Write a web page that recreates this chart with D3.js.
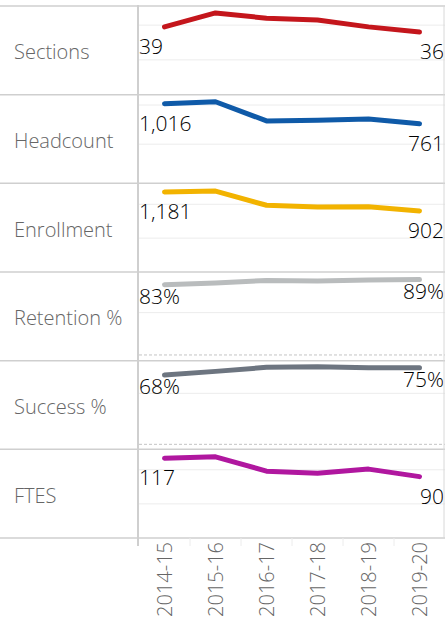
<!DOCTYPE html>
<html>
<head>
<meta charset="utf-8">
<script src="https://cdn.jsdelivr.net/npm/d3@7"></script>
<style>
  body { margin: 0; background: #fff; }
  svg text { font-family: 'Open Sans', sans-serif; font-weight: 300; }
</style>
</head>
<body>
<div class="canvas"></div>
<script>
// Data
const years = ['2014-15', '2015-16', '2016-17', '2017-18', '2018-19', '2019-20']
const measures = ['Sections', 'Headcount', 'Enrollment', 'Retention %', 'Success %', 'FTES']
const sections = [39, 47, 44, 43, 39, 36]
const headcount = [1016, 1042, 797, 805, 820, 761]
const enrollment = [1181, 1195, 985, 960, 962, 902]
const retention = [83, 85, 88, 87.5, 88.5, 89]
const success = [68, 71.5, 75.5, 76, 75, 75]
const ftes = [117, 119, 98, 95, 101, 90]

const dims = { width: 445, height: 626, top: 6, bottom: 538, left: 139, right: 445 }
const rowHeight = (dims.bottom - dims.top) / measures.length

// per-row axis setup (independent axes, like the source)
const rows = [
  { values: sections, color: '#c4161c', max: 51, pad: 0, grid: [20, 40], fmt: d3.format(','), dy: 27 },
  { values: headcount, color: '#0f5aa8', max: 1132, pad: 0, grid: [500, 1000], fmt: d3.format(','), dy: 27 },
  { values: enrollment, color: '#f2b300', max: 1309, pad: 0, grid: [500, 1000], fmt: d3.format(','), dy: 27 },
  { values: retention, color: '#b9bcbd', max: 98, pad: 5.7, grid: [50], fmt: d => Math.round(d) + '%', dy: 19, zero: true },
  { values: success, color: '#6d7580', max: 82, pad: 5, grid: [50], fmt: d => Math.round(d) + '%', dy: 19, zero: true },
  { values: ftes, color: '#b0179f', max: 130, pad: 0, grid: [50, 100], fmt: d3.format(','), dy: 27 }
]

const svg = d3.select('.canvas')
  .append('svg')
    .attr('width', dims.width)
    .attr('height', dims.height)

const x = d3.scaleBand()
  .domain(years)
  .range([dims.left, dims.right])

const cx = d => x(d) + x.bandwidth() / 2

const line = d3.line()

rows.forEach((row, i) => {
  const rowTop = dims.top + i * rowHeight
  const rowBottom = rowTop + rowHeight

  const y = d3.scaleLinear()
    .domain([0, row.max])
    .range([rowBottom - row.pad, rowTop])

  const g = svg.append('g')

  // gridlines
  g.selectAll('line.grid')
    .data(row.grid)
    .enter()
    .append('line')
      .attr('x1', dims.left)
      .attr('x2', dims.right)
      .attr('y1', d => y(d))
      .attr('y2', d => y(d))
      .attr('stroke', '#ececec')
      .attr('stroke-width', 1)

  // dashed zero line
  if (row.zero) {
    g.append('line')
      .attr('x1', dims.left)
      .attr('x2', dims.right)
      .attr('y1', y(0))
      .attr('y2', y(0))
      .attr('stroke', '#c4c4c4')
      .attr('stroke-dasharray', '3,2')
  }

  // row label
  g.append('text')
    .attr('x', 14)
    .attr('y', (rowTop + rowBottom) / 2)
    .attr('dy', '0.45em')
    .attr('fill', '#666')
    .attr('font-size', '20px')
    .text(measures[i])

  // the line
  const pts = years.map((yr, j) => [cx(yr), y(row.values[j])])
  g.append('path')
    .attr('d', line(pts))
    .attr('fill', 'none')
    .attr('stroke', row.color)
    .attr('stroke-width', 5)
    .attr('stroke-linecap', 'round')
    .attr('stroke-linejoin', 'round')

  // first and last value labels
  const n = row.values.length - 1
  g.append('text')
    .attr('x', dims.left)
    .attr('y', y(row.values[0]) + row.dy)
    .attr('fill', '#000')
    .attr('font-size', '21px')
    .text(row.fmt(row.values[0]))

  g.append('text')
    .attr('x', dims.right - 1)
    .attr('y', y(row.values[n]) + row.dy)
    .attr('text-anchor', 'end')
    .attr('fill', '#000')
    .attr('font-size', '21px')
    .text(row.fmt(row.values[n]))
})

// row separators
const seps = d3.range(measures.length + 1).map(i => dims.top + i * rowHeight)
svg.selectAll('line.sep')
  .data(seps)
  .enter()
  .append('line')
    .attr('x1', 0)
    .attr('x2', dims.width)
    .attr('y1', d => d)
    .attr('y2', d => d)
    .attr('stroke', '#cfcfcf')
    .attr('stroke-width', 1.5)

// vertical frame lines
svg.append('line')
  .attr('x1', 138).attr('x2', 138)
  .attr('y1', dims.top - 1).attr('y2', dims.bottom + 8)
  .attr('stroke', '#cfcfcf')
  .attr('stroke-width', 2)

svg.append('line')
  .attr('x1', dims.width - 1).attr('x2', dims.width - 1)
  .attr('y1', dims.top).attr('y2', dims.bottom)
  .attr('stroke', '#d8d8d8')
  .attr('stroke-width', 1)

// x axis tick separators
svg.selectAll('line.tick')
  .data(years.slice(1))
  .enter()
  .append('line')
    .attr('x1', d => x(d))
    .attr('x2', d => x(d))
    .attr('y1', dims.bottom)
    .attr('y2', dims.bottom + 8)
    .attr('stroke', '#ececec')

// x axis labels (rotated)
svg.selectAll('text.year')
  .data(years)
  .enter()
  .append('text')
    .attr('transform', d => `translate(${cx(d)}, ${dims.bottom + 4}) rotate(-90)`)
    .attr('text-anchor', 'end')
    .attr('dy', '0.35em')
    .attr('fill', '#666')
    .attr('font-size', '20px')
    .text(d => d)
</script>
</body>
</html>
